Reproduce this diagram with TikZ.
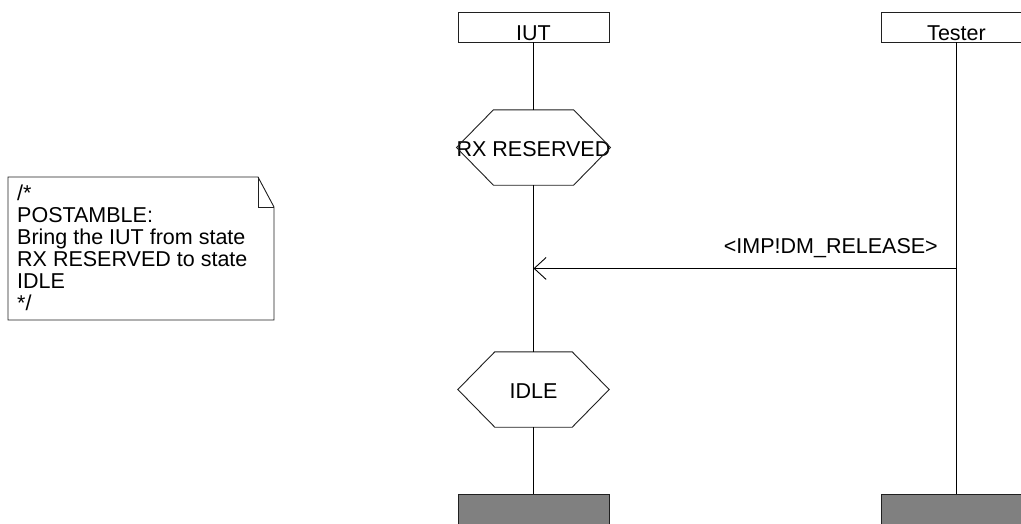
\documentclass[tikz,border=0pt]{standalone}
\usepackage{fontspec}
\setmainfont{Liberation Sans}
\usetikzlibrary{arrows.meta,calc}
\definecolor{endgray}{HTML}{808080}
\definecolor{linegray}{HTML}{202020}
\begin{document}
\begin{tikzpicture}[x=1pt,y=-1pt,
  every node/.style={font=\fontsize{21.5}{22}\selectfont},
  headbox/.style={draw=linegray, line width=0.9pt, minimum width=151pt, minimum height=30pt, inner sep=0pt, text height=26pt, text depth=0pt},
  endbox/.style={draw=linegray, fill=endgray, line width=0.9pt, minimum width=151pt, minimum height=30pt, inner sep=0pt},
  statebox/.style={minimum width=151pt, minimum height=75pt, inner sep=0pt, text height=18pt, text depth=0pt},
  shapeline/.style={draw=linegray, line width=0.9pt},
  life/.style={draw=black, line width=0.9pt},
  msg/.style={draw=black, line width=0.9pt, -{Straight Barb[length=12pt,width=22pt,line width=0.9pt]}}
]
\clip (0,0) rectangle (1021,523);
\fill[white] (0,0) rectangle (1021,523);

% instance heads
\node[headbox] (iut) at (533.5,27) {IUT};
\node[headbox] (tester) at (956.5,27) {Tester};

% states
\node[statebox] (rx) at (533.5,147.5) {RX RESERVED};
\node[statebox] (idle) at (533.5,389.5) {IDLE};
\foreach \s in {rx,idle}{
  \draw[shapeline] (\s.west) -- ($(\s.north west)+(37,0)$) -- ($(\s.north east)+(-37,0)$) -- (\s.east)
    -- ($(\s.south east)+(-37,0)$) -- ($(\s.south west)+(37,0)$) -- cycle;
}

% instance ends
\node[endbox] (iutend) at (533.5,509) {};
\node[endbox] (testerend) at (956.5,509) {};

% lifelines
\draw[life] (iut.south) -- (rx.north);
\draw[life] (rx.south) -- (idle.north);
\draw[life] (idle.south) -- (iutend.north);
\draw[life] (tester.south) -- (testerend.north);

% message
\coordinate (m1) at ($(tester.south)+(0,226)$);
\coordinate (m2) at ($(iut.south)+(0,226)$);
\draw[msg] (m1) -- (m2);
\node[anchor=base east, inner sep=0pt] (msglbl) at ($(m1)+(-18.5,-15)$) {<IMP!DM\_RELEASE>};

% comment note
\draw[shapeline] (8,177) -- (258,177) -- (274,207) -- (274,320) -- (8,320) -- cycle;
\draw[shapeline] (258,177) -- (258,207) -- (274,207);
\node[anchor=north west, align=left, inner sep=0pt] (notetext) at (17,185)
  {/*\\POSTAMBLE:\\Bring the IUT from state\\RX RESERVED to state\\IDLE\\*/};
\end{tikzpicture}
\end{document}
